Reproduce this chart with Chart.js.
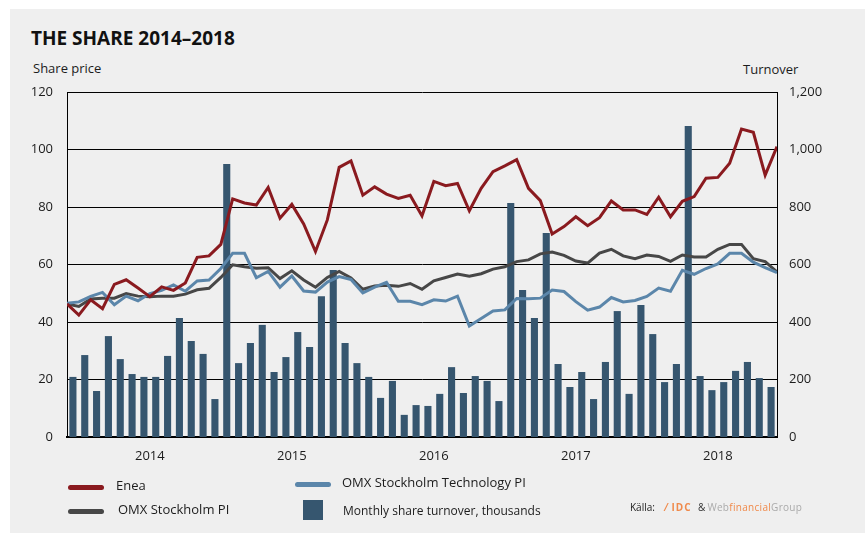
<!DOCTYPE html>
<html lang="en">
<head>
<meta charset="UTF-8">
<title>The share 2014–2018</title>
<script src="https://cdn.jsdelivr.net/npm/chart.js"></script>
<style>
  body { margin: 0; width: 865px; height: 533px; background: #fff; position: relative; overflow: hidden;
         font-family: "Open Sans", sans-serif; color: #1c1c1c; }
  #panel { position: absolute; left: 10px; top: 9px; width: 855px; height: 524px; background: #efefef; }
  #wrap { position: absolute; left: 0; top: 0; width: 865px; height: 533px; }
  .t { position: absolute; white-space: nowrap; line-height: 1; }
  .sw { position: absolute; height: 5px; width: 36px; border-radius: 3px; }
</style>
</head>
<body>
<div id="panel"></div>
<div class="t" style="left:31px; top:29px; font-size:19px; font-weight:700; color:#111;">THE SHARE 2014–2018</div>
<div class="t" style="left:33px; top:62px; font-size:13px;">Share price</div>
<div class="t" style="left:743px; top:63px; font-size:13px;">Turnover</div>
<div id="wrap"><canvas id="shareChart"></canvas></div>

<!-- legend -->
<div class="sw" style="left:68px; top:485px; background:#8a1a1f;"></div>
<div class="t" style="left:116px; top:479px; font-size:13px;">Enea</div>
<div class="sw" style="left:295px; top:482px; background:#5b86aa;"></div>
<div class="t" style="left:342px; top:476px; font-size:13px;">OMX Stockholm Technology PI</div>
<div class="sw" style="left:68px; top:509px; background:#474747;"></div>
<div class="t" style="left:118px; top:503px; font-size:13px;">OMX Stockholm PI</div>
<div style="position:absolute; left:303px; top:500px; width:20px; height:20px; background:#36566f;"></div>
<div class="t" style="left:343px; top:505px; font-size:12px;">Monthly share turnover, thousands</div>
<div class="t" style="left:630px; top:502px; font-size:10px;">Källa:
  <span style="color:#f08a4b; font-weight:700; margin-left:8px; letter-spacing:1px;">⁄ IDC</span>
  <span style="color:#333; margin-left:4px;">&amp;</span><span style="letter-spacing:0.3px; margin-left:2px;"><span style="color:#aaa;">Web</span><span style="color:#f08a4b;">financial</span><span style="color:#aaa;">Group</span></span>
</div>

<script>
    // month categories for the turnover bars
    const months = [
        '2013-12',
        '2014-01','2014-02','2014-03','2014-04','2014-05','2014-06','2014-07','2014-08','2014-09','2014-10','2014-11','2014-12',
        '2015-01','2015-02','2015-03','2015-04','2015-05','2015-06','2015-07','2015-08','2015-09','2015-10','2015-11','2015-12',
        '2016-01','2016-02','2016-03','2016-04','2016-05','2016-06','2016-07','2016-08','2016-09','2016-10','2016-11','2016-12',
        '2017-01','2017-02','2017-03','2017-04','2017-05','2017-06','2017-07','2017-08','2017-09','2017-10','2017-11','2017-12',
        '2018-01','2018-02','2018-03','2018-04','2018-05','2018-06','2018-07','2018-08','2018-09','2018-10','2018-11'
    ];
    const yearLabels = ['2014', '2015', '2016', '2017', '2018'];

    // share prices at each month boundary (61 points)
    const enea = [46.3, 42.4, 47.7, 44.6, 53.1, 54.7, 51.8, 48.8, 52.2, 51.0,
                  53.6, 62.5, 63.0, 67.0, 82.8, 81.4, 80.7, 86.8, 76.1, 80.9,
                  74.1, 64.5, 75.5, 93.8, 96.0, 84.1, 87.0, 84.5, 83.0, 84.1,
                  76.9, 88.9, 87.4, 88.2, 78.7, 86.5, 92.3, 94.3, 96.5, 86.5,
                  82.2, 70.6, 73.2, 76.6, 73.5, 76.3, 82.1, 79.0, 79.0, 77.4,
                  83.4, 76.6, 82.0, 83.6, 90.0, 90.3, 95.2, 107.1, 106.0, 91.1, 101.0];
    const omxPI = [46.3, 45.4, 48.0, 48.3, 48.3, 49.9, 49.0, 48.8, 49.0, 49.0,
                   49.7, 51.2, 51.7, 55.5, 59.9, 59.2, 58.7, 58.9, 55.1, 57.8,
                   54.6, 52.1, 55.5, 57.6, 55.3, 51.4, 52.5, 52.8, 52.4, 53.4,
                   51.4, 54.3, 55.5, 56.7, 55.9, 56.8, 58.4, 59.2, 61.0, 61.6,
                   63.7, 64.3, 63.2, 61.2, 60.5, 64.0, 65.3, 63.0, 62.0, 63.3,
                   62.8, 61.1, 63.3, 62.6, 62.6, 65.3, 67.0, 67.0, 62.0, 61.0, 57.4];
    const omxTech = [46.5, 47.0, 48.9, 50.3, 46.0, 49.0, 47.4, 49.9, 51.0, 52.9,
                     50.7, 54.3, 54.6, 58.6, 63.9, 63.9, 55.4, 57.6, 52.1, 56.0,
                     50.8, 50.4, 53.9, 55.8, 54.8, 50.1, 52.1, 53.8, 47.2, 47.2,
                     46.0, 47.7, 47.3, 49.0, 38.6, 41.2, 43.8, 44.2, 48.2, 48.1,
                     48.3, 51.1, 50.6, 47.1, 44.1, 45.2, 48.5, 47.0, 47.5, 48.9,
                     51.8, 50.7, 58.0, 56.6, 58.6, 60.2, 63.9, 63.9, 60.8, 58.9, 57.2];

    // monthly share turnover, thousands
    const turnover = [209, 285, 160, 351, 271, 219, 209, 209, 282, 414,
                      334, 289, 132, 950, 257, 327, 390, 226, 278, 365,
                      313, 490, 581, 327, 257, 209, 136, 195, 77, 111,
                      108, 150, 243, 153, 212, 195, 125, 814, 511, 414,
                      710, 254, 174, 226, 132, 261, 438, 150, 459, 358,
                      191, 254, 1082, 212, 163, 191, 230, 261, 205, 174];

    // line points sit on month boundaries 0..60
    const toPoints = arr => arr.map((v, i) => ({ x: i, y: v }));

    // year label goes in the middle of its twelve months
    const yearPos = yearLabels.map(y => months.indexOf(y + '-01') + 6);

    const tickFont = { family: 'Open Sans', size: 13 };

    const ctx = document.getElementById('shareChart').getContext('2d');
    const shareChart = new Chart(ctx, {
        type: 'bar',
        data: {
            labels: months,
            datasets: [
                {
                    type: 'line', label: 'Enea', data: toPoints(enea),
                    xAxisID: 'xl', yAxisID: 'y',
                    borderColor: '#8a1a1f', borderWidth: 3, pointRadius: 0, tension: 0
                },
                {
                    type: 'line', label: 'OMX Stockholm Technology PI', data: toPoints(omxTech),
                    xAxisID: 'xl', yAxisID: 'y',
                    borderColor: '#5b86aa', borderWidth: 3, pointRadius: 0, tension: 0
                },
                {
                    type: 'line', label: 'OMX Stockholm PI', data: toPoints(omxPI),
                    xAxisID: 'xl', yAxisID: 'y',
                    borderColor: '#474747', borderWidth: 3, pointRadius: 0, tension: 0
                },
                {
                    label: 'Monthly share turnover, thousands', data: turnover,
                    xAxisID: 'x', yAxisID: 'y2',
                    backgroundColor: '#36566f',
                    grouped: false,
                    barPercentage: 0.6, categoryPercentage: 1.0
                }
            ]
        },
        options: {
            responsive: true,
            maintainAspectRatio: false,
            animation: false,
            layout: { padding: { top: 92, left: 0, right: 0, bottom: 0 } },
            plugins: { legend: { display: false }, tooltip: { enabled: false } },
            scales: {
                x: { type: 'category', display: false, offset: true },
                xl: {
                    type: 'linear', position: 'bottom', min: 0, max: months.length,
                    offset: false,
                    afterFit: s => { s.height = 96; },
                    afterBuildTicks: axis => { axis.ticks = yearPos.map(v => ({ value: v })); },
                    grid: { display: false, drawTicks: false, offset: false },
                    border: { display: true, color: '#000', width: 2 },
                    ticks: {
                        font: tickFont, color: '#1c1c1c', padding: 11, maxRotation: 0, autoSkip: false,
                        callback: (v, i) => yearLabels[i]
                    }
                },
                y: {
                    position: 'left', min: 0, max: 120,
                    afterFit: s => { s.width = 67; },
                    grid: { color: '#000', lineWidth: 1, drawTicks: false },
                    border: { display: true, color: '#000', width: 1 },
                    ticks: { stepSize: 20, font: tickFont, color: '#1c1c1c', padding: 14 }
                },
                y2: {
                    position: 'right', min: 0, max: 1200,
                    afterFit: s => { s.width = 88; },
                    grid: { display: false, drawTicks: false },
                    border: { display: true, color: '#000', width: 1 },
                    ticks: { stepSize: 200, font: tickFont, color: '#1c1c1c', padding: 12 }
                }
            }
        }
    });
</script>
</body>
</html>
